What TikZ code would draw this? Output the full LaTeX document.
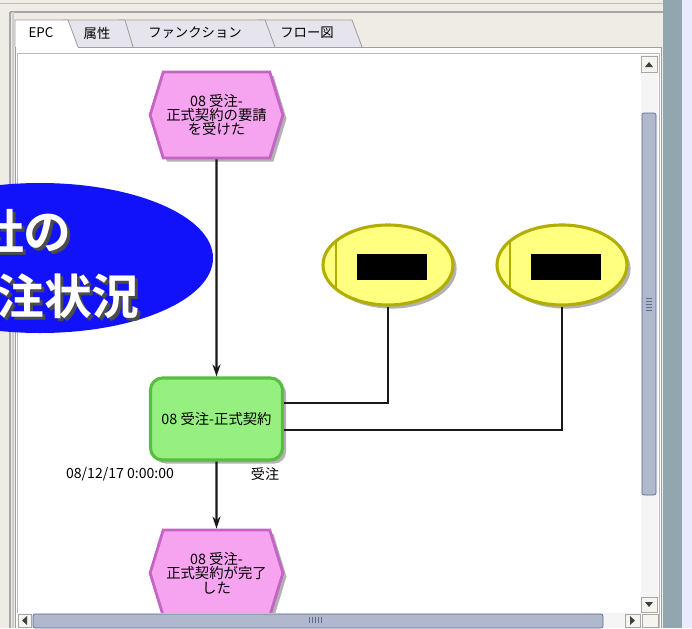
\documentclass[tikz,border=0pt]{standalone}
\usepackage{fontspec}
\setmainfont{Noto Sans CJK JP}
\newfontfamily\jpbold{Noto Sans CJK JP Bold}
\usepackage{xcolor}
\usetikzlibrary{shapes.symbols,shapes.geometric,arrows.meta,shadows,calc}

\definecolor{winbg}{RGB}{238,236,228}
\definecolor{tabgray}{RGB}{230,228,236}
\definecolor{evfill}{RGB}{246,164,240}
\definecolor{evdraw}{RGB}{196,100,196}
\definecolor{fnfill}{RGB}{150,240,128}
\definecolor{fndraw}{RGB}{88,190,66}
\definecolor{orgfill}{RGB}{255,255,128}
\definecolor{orgdraw}{RGB}{178,174,0}
\definecolor{slideblue}{RGB}{18,18,250}
\definecolor{barblue}{RGB}{176,184,206}
\definecolor{bardraw}{RGB}{96,106,138}
\definecolor{strip}{RGB}{146,166,176}

% white slide text with a dark drop shadow
\newcommand{\shadowtext}[1]{\makebox[0pt][l]{\hspace{0.75mm}\raisebox{-0.75mm}{\textcolor{black!70}{#1}}}\textcolor{white}{#1}}

\tikzset{
  event/.style={signal, signal to=east and west, signal pointer angle=146,
    draw=evdraw, fill=evfill, line width=2pt, minimum width=33.2mm,
    minimum height=21.5mm, inner sep=0pt, align=center,
    font=\fontsize{10.2}{10.2}\selectfont,
    drop shadow={shadow xshift=0.9mm, shadow yshift=-0.9mm, fill=black, opacity=0.3}},
  func/.style={rectangle, rounded corners=3mm, draw=fndraw, fill=fnfill,
    line width=2.2pt, minimum width=33mm, minimum height=20.5mm, inner sep=0pt,
    font=\fontsize{10.2}{10.2}\selectfont,
    drop shadow={shadow xshift=0.9mm, shadow yshift=-0.9mm, fill=black, opacity=0.3}},
  orgunit/.style={ellipse, draw=orgdraw, fill=orgfill, line width=2.2pt,
    minimum width=32.5mm, minimum height=20mm,
    drop shadow={shadow xshift=0.9mm, shadow yshift=-0.9mm, fill=black, opacity=0.3}},
  flow/.style={line width=1.5pt, black!90, -{Stealth[length=3mm, width=2mm]}},
  link/.style={line width=1.5pt, black!90},
  tabtxt/.style={font=\fontsize{9.5}{10}\selectfont},
  btn/.style={fill=winbg!60, draw=gray!70, line width=0.4pt},
  slidetxt/.style={font=\jpbold\fontsize{34}{36}\selectfont, anchor=east, inner sep=0pt}
}

\begin{document}
\begin{tikzpicture}[x=0.25mm, y=-0.25mm]
  \useasboundingbox (0,0) rectangle (692,628);
  \clip (0,0) rectangle (692,628);
  % window chrome
  \fill[winbg] (0,0) rectangle (692,628);
  \draw[gray!50, line width=0.6pt] (0,3) -- (663,3);
  \draw[gray!70, line width=1pt] (10,12) -- (663,12);
  \draw[gray!70, line width=0.8pt] (10,12) -- (10,628);
  \draw[gray!40, line width=0.8pt] (13,12) -- (13,628);
  \fill[strip] (663,0) rectangle (682,628);
  \fill[blue!8] (682,0) rectangle (692,628);
  % tabs
  \draw[gray!75, fill=tabgray, line width=0.6pt] (258,47) -- (258,20) -- (352,20) -- (362,47);
  \draw[gray!75, fill=tabgray, line width=0.6pt] (118,47) -- (118,20) -- (265,20) -- (275,47);
  \draw[gray!75, fill=tabgray, line width=0.6pt] (62,47) -- (62,20) -- (125,20) -- (133,47);
  \draw[gray!75, fill=white, line width=0.6pt] (15,47) -- (15,20) -- (68,20) -- (78,47);
  \node[tabtxt] (tepc) at (41,33) {EPC};
  \node[tabtxt] (tattr) at (97,33) {属性};
  \node[tabtxt] (tfunc) at (195,33) {ファンクション};
  \node[tabtxt] (tflow) at (307,33) {フロー図};
  % panel and canvas
  \fill[white] (15,47) rectangle (661,628);
  \draw[gray!75, line width=0.6pt] (78,47) -- (661,47) -- (661,628);
  \draw[gray!75, line width=0.6pt] (15,47) -- (15,628);
  \draw[gray!55, line width=0.6pt] (17,628) -- (17,53) -- (659,53) -- (659,628);

  \begin{scope}
    \clip (18,54) rectangle (641,613);
    \node[event] (ev1) at (216.5,115) {08 受注-\\正式契約の要請\\を受けた};
    \node[func] (fn) at (216.5,419) {08 受注-正式契約};
    \node[event] (ev2) at (216.5,573) {08 受注-\\正式契約が完了\\した};
    \node[orgunit] (org1) at (388,265) {};
    \node[orgunit] (org2) at (562,265) {};
    \node[fill=black, minimum width=17.5mm, minimum height=6.5mm, inner sep=0pt] (box1) at ($(org1)+(4,2)$) {};
    \node[fill=black, minimum width=17.5mm, minimum height=6.5mm, inner sep=0pt] (box2) at ($(org2)+(4,2)$) {};
    \draw[orgdraw, line width=1.4pt] ($(org1.center)+(-52,-25)$) -- ($(org1.center)+(-52,25)$);
    \draw[orgdraw, line width=1.4pt] ($(org2.center)+(-52,-25)$) -- ($(org2.center)+(-52,25)$);
    \draw[flow] (ev1) -- (fn);
    \draw[flow] (fn) -- (ev2);
    \draw[link] (org1.south) |- ($(fn.east)+(0,-16)$);
    \draw[link] (org2.south) |- ($(fn.east)+(0,11)$);
    \node[font=\fontsize{10}{10}\selectfont] (date) at (120,474) {08/12/17 0:00:00};
    \node[font=\fontsize{10}{10}\selectfont] (stat) at (265,474) {受注};
  \end{scope}

  % vertical scrollbar
  \fill[gray!8] (641,55) rectangle (658,613);
  \draw[btn] (641,56) rectangle (657,72);
  \fill[black!75] (645,67) -- (653,67) -- (649,62) -- cycle;
  \draw[bardraw, fill=barblue, rounded corners=1.5pt, line width=0.5pt] (642,113) rectangle (656,495);
  \foreach \yy in {298,301,304,307,310}
    \draw[bardraw, line width=0.4pt] (646,\yy) -- (652,\yy);
  \draw[btn] (641,597) rectangle (657,612);
  \fill[black!75] (645,602) -- (653,602) -- (649,607) -- cycle;
  % horizontal scrollbar
  \fill[gray!8] (17,613) rectangle (641,628);
  \draw[btn] (18,614) rectangle (31,627);
  \fill[black!75] (27,616) -- (27,625) -- (22,620.5) -- cycle;
  \draw[bardraw, fill=barblue, rounded corners=1.5pt, line width=0.5pt] (33,614) rectangle (603,628);
  \foreach \xx in {309,312,315,318,321}
    \draw[bardraw, line width=0.4pt] (\xx,617) -- (\xx,623);
  \draw[btn] (625,614) rectangle (640,627);
  \fill[black!75] (630,616) -- (630,625) -- (635,620.5) -- cycle;
  \draw[btn] (642,614) rectangle (658,627);

  % slide overlay
  \fill[slideblue] (40,258) ellipse [x radius=173, y radius=75];
  \node[slidetxt] (cap1) at (72,233) {\shadowtext{社の}};
  \node[slidetxt] (cap2) at (140,298) {\shadowtext{注状況}};
\end{tikzpicture}
\end{document}
